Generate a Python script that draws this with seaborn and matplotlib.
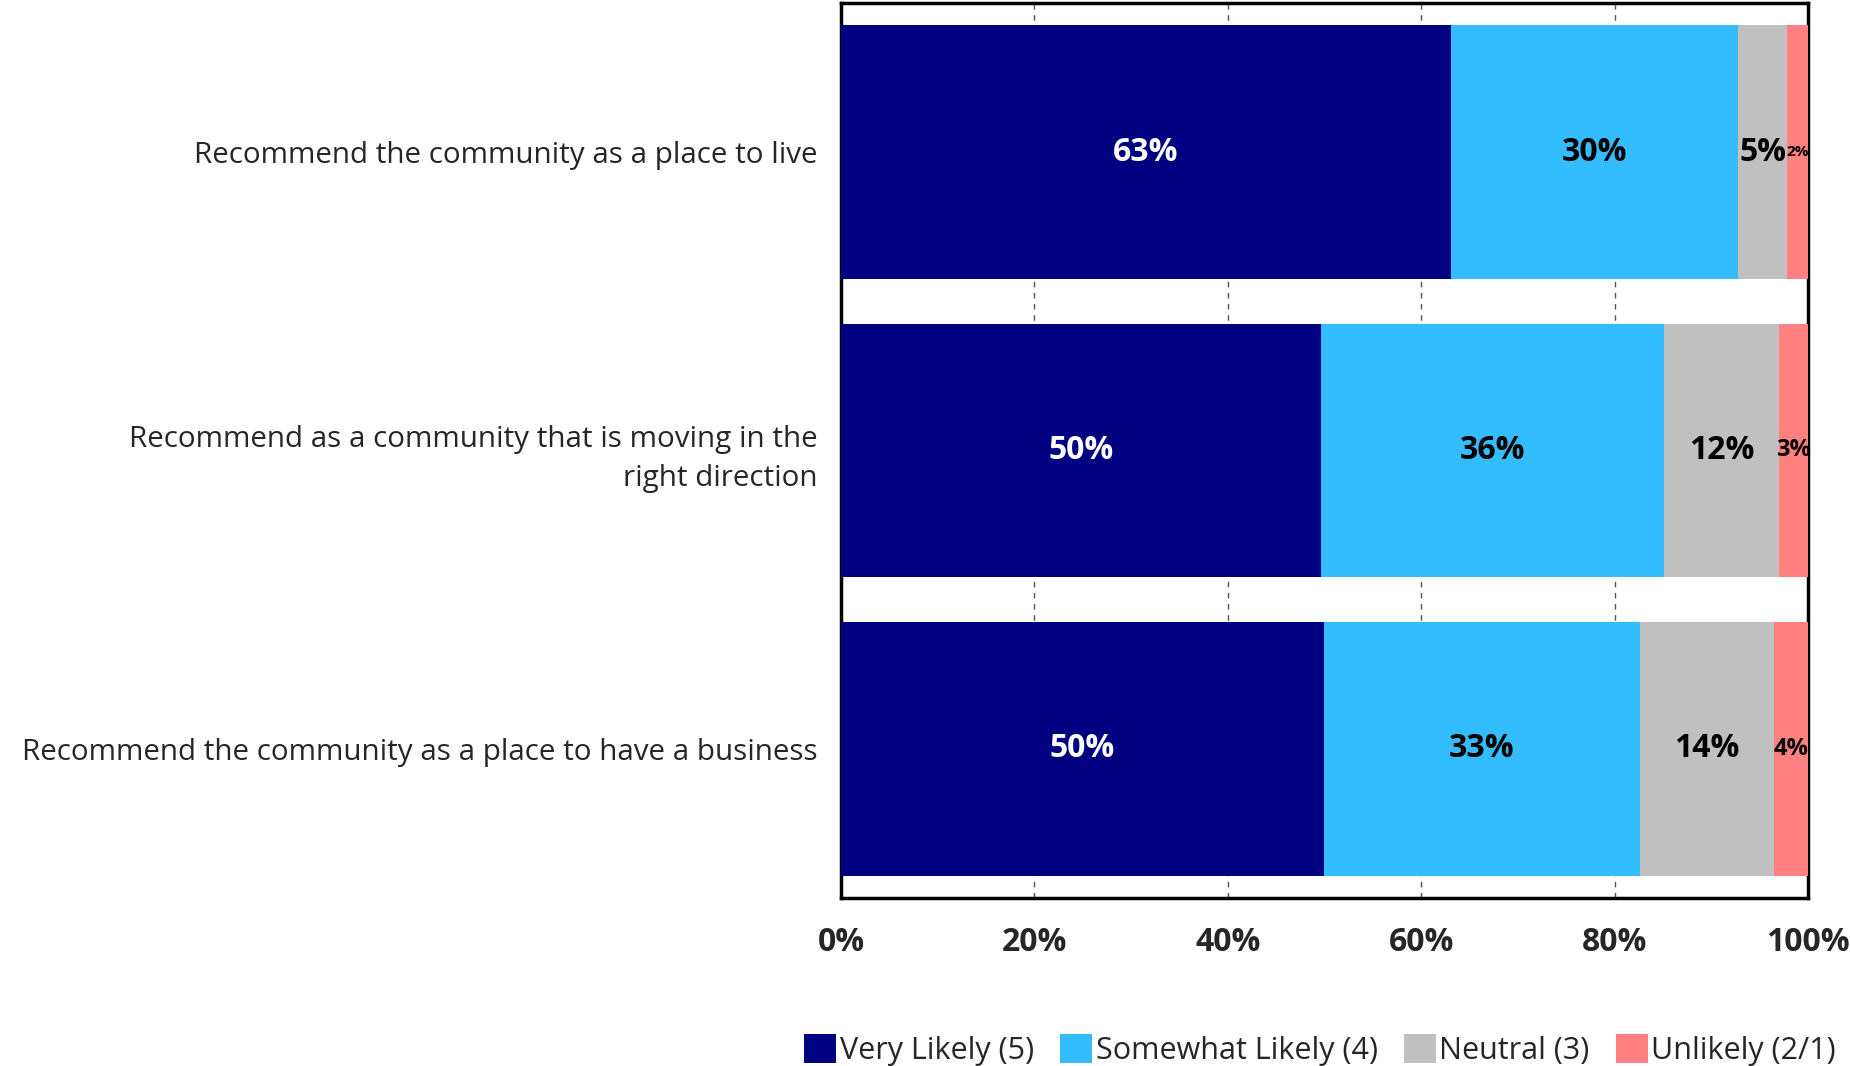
import matplotlib
matplotlib.use("Agg")
import matplotlib.pyplot as plt
import seaborn as sns
import pandas as pd
import numpy as np
from matplotlib.patches import Patch

categories = [
    "Recommend the community as a place to live",
    "Recommend as a community that is moving in the\nright direction",
    "Recommend the community as a place to have a business",
]
series_names = ["Very Likely (5)", "Somewhat Likely (4)", "Neutral (3)", "Unlikely (2/1)"]
very_likely = [63.1, 49.6, 49.9]
somewhat_likely = [29.7, 35.5, 32.7]
neutral = [5.0, 11.9, 13.9]
unlikely = [2.2, 3.0, 3.5]
tick_values = [0, 20, 40, 60, 80, 100]
tick_labels = ["0%", "20%", "40%", "60%", "80%", "100%"]

colors = ["#000080", "#33BDFF", "#C0C0C0", "#FF8080"]
text_colors = ["white", "black", "black", "black"]

sns.set_theme(style="white")
plt.rcParams["font.family"] = ["Open Sans", "DejaVu Sans"]

series = [very_likely, somewhat_likely, neutral, unlikely]
df = pd.DataFrame({name: vals for name, vals in zip(series_names, series)})
df["category"] = categories
cum = df[series_names].cumsum(axis=1)

fig = plt.figure(figsize=(18.5, 10.66), dpi=100)
ax = fig.add_axes([0.4546, 0.1576, 0.5227, 0.8396])

# draw stacked bars: largest cumulative first
for i in reversed(range(len(series_names))):
    d = pd.DataFrame({"category": categories, "value": cum[series_names[i]].values})
    sns.barplot(data=d, x="value", y="category", orient="h", color=colors[i],
                saturation=1, width=0.85, ax=ax, zorder=3, linewidth=0)

# data labels
for i, name in enumerate(series_names):
    lefts = cum[name].values - df[name].values
    for j, v in enumerate(df[name].values):
        if v < 2.5:
            fs = 11
        elif v < 4.5:
            fs = 17
        else:
            fs = 23
        ax.text(lefts[j] + v / 2, j, f"{v:.0f}%", ha="center", va="center",
                color=text_colors[i], fontsize=fs, fontweight="bold", zorder=5)

ax.set_xlim(0, 100)
ax.set_ylim(2.5, -0.5)
ax.set_xticks(tick_values)
ax.set_xticklabels(tick_labels, fontsize=23, fontweight="bold")
ax.tick_params(axis="x", length=0, pad=20)
ax.tick_params(axis="y", length=0, pad=17, labelsize=21.3)
for lab in ax.get_yticklabels():
    lab.set_horizontalalignment("right")
    lab.set_linespacing(1.45)
ax.set_xlabel("")
ax.set_ylabel("")
ax.xaxis.grid(True, color="#555555", linestyle=(0, (4, 4)), linewidth=1.0)
ax.set_axisbelow(True)
for sp in ax.spines.values():
    sp.set_visible(True)
    sp.set_color("black")
    sp.set_linewidth(2.5)

handles = [Patch(facecolor=c, edgecolor="none") for c in colors]
fig.legend(handles, series_names, loc="lower right", bbox_to_anchor=(1.004, -0.02),
           ncol=4, frameon=False, fontsize=22, handlelength=1.05, handleheight=1.05,
           handletextpad=0.12, columnspacing=0.85, borderaxespad=0.3)

fig.savefig("out.png", dpi=100)
